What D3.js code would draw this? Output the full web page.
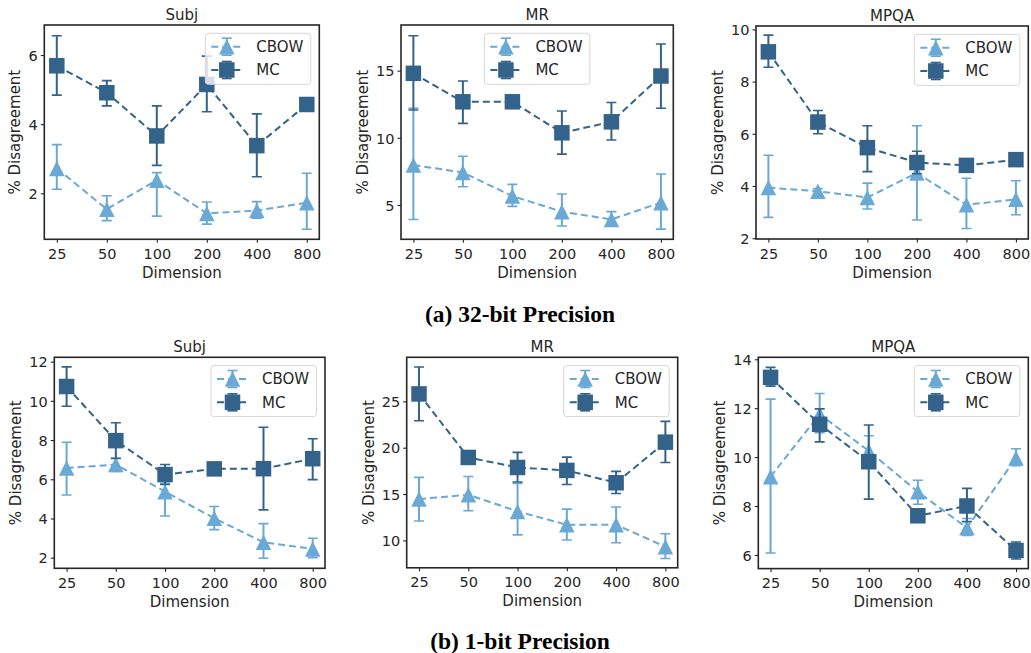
<!DOCTYPE html>
<html>
<head>
<meta charset="utf-8">
<script src="https://cdn.jsdelivr.net/npm/d3@7"></script>
<style>
  body { margin: 0; background: #fff; }
  svg { display: block; }
</style>
</head>
<body>
<svg id="chart" width="1031" height="653"></svg>
<script>
// ---- data -------------------------------------------------------------
const dimensions = ["25", "50", "100", "200", "400", "800"];
const seriesNames = ["CBOW", "MC"];

// Subj, 32-bit
const subj32Cbow     = [2.72, 1.54, 2.38, 1.42, 1.50, 1.73];
const subj32CbowLow  = [2.12, 1.21, 1.34, 1.11, 1.28, 0.96];
const subj32CbowHigh = [3.41, 1.93, 2.60, 1.75, 1.76, 2.58];
const subj32Mc       = [5.69, 4.91, 3.66, 5.15, 3.38, 4.57];
const subj32McLow    = [4.84, 4.53, 2.81, 4.36, 2.48, 4.52];
const subj32McHigh   = [6.56, 5.26, 4.53, 5.97, 4.30, 4.62];

// MR, 32-bit
const mr32Cbow     = [7.97, 7.42, 5.66, 4.50, 3.92, 5.17];
const mr32CbowLow  = [3.92, 6.35, 4.89, 3.43, 3.60, 3.20];
const mr32CbowHigh = [12.20, 8.63, 6.53, 5.81, 4.50, 7.30];
const mr32Mc       = [14.80, 12.68, 12.68, 10.37, 11.19, 14.60];
const mr32McLow    = [12.07, 11.07, 12.58, 8.78, 9.83, 12.20];
const mr32McHigh   = [17.60, 14.23, 12.78, 11.99, 12.63, 16.98];

// MPQA, 32-bit
const mpqa32Cbow     = [3.94, 3.80, 3.56, 4.50, 3.28, 3.49];
const mpqa32CbowLow  = [2.80, 3.70, 3.12, 2.70, 2.37, 2.90];
const mpqa32CbowHigh = [5.18, 3.90, 4.11, 6.31, 4.30, 4.20];
const mpqa32Mc       = [9.14, 6.45, 5.47, 4.90, 4.79, 5.01];
const mpqa32McLow    = [8.55, 6.00, 4.55, 4.47, 4.72, 4.95];
const mpqa32McHigh   = [9.78, 6.89, 6.31, 5.33, 4.86, 5.07];

// Subj, 1-bit
const subj1Cbow     = [6.58, 6.75, 5.37, 4.01, 2.79, 2.45];
const subj1CbowLow  = [5.20, 6.40, 4.13, 3.43, 1.97, 2.00];
const subj1CbowHigh = [7.89, 7.08, 5.80, 4.61, 3.74, 2.99];
const subj1Mc       = [10.73, 7.97, 6.24, 6.53, 6.54, 7.05];
const subj1McLow    = [9.72, 7.06, 5.73, 6.45, 4.44, 5.98];
const subj1McHigh   = [11.73, 8.88, 6.75, 6.61, 8.65, 8.07];

// MR, 1-bit
const mr1Cbow     = [14.46, 14.93, 13.13, 11.69, 11.69, 9.32];
const mr1CbowLow  = [12.10, 13.20, 10.60, 10.04, 9.75, 8.06];
const mr1CbowHigh = [16.80, 16.90, 16.15, 13.38, 13.60, 10.72];
const mr1Mc       = [25.80, 18.95, 17.87, 17.55, 16.22, 20.60];
const mr1McLow    = [22.90, 18.75, 16.30, 16.04, 15.07, 18.40];
const mr1McHigh   = [28.70, 19.15, 19.50, 18.99, 17.45, 22.84];

// MPQA, 1-bit
const mpqa1Cbow     = [9.20, 11.75, 10.25, 8.58, 7.11, 9.96];
const mpqa1CbowLow  = [6.08, 11.00, 9.65, 8.07, 6.80, 9.65];
const mpqa1CbowHigh = [12.37, 12.60, 10.87, 9.05, 7.49, 10.34];
const mpqa1Mc       = [13.26, 11.34, 9.81, 7.60, 8.00, 6.18];
const mpqa1McLow    = [12.90, 10.62, 8.28, 7.50, 7.36, 5.83];
const mpqa1McHigh   = [13.67, 11.97, 11.31, 7.70, 8.72, 6.53];

// y-axis tick labels per panel
const subj32Ticks = [2, 4, 6];
const mr32Ticks   = [5, 10, 15];
const mpqa32Ticks = [2, 4, 6, 8, 10];
const subj1Ticks  = [2, 4, 6, 8, 10, 12];
const mr1Ticks    = [10, 15, 20, 25];
const mpqa1Ticks  = [6, 8, 10, 12, 14];

const captions = ["(a) 32-bit Precision", "(b) 1-bit Precision"];

// ---- layout -----------------------------------------------------------
const panels = [
  { title: "Subj", box: [44.3, 25, 319.3, 239.3], domain: [0.67, 6.87], ticks: subj32Ticks, legend: "right",
    series: [[subj32Cbow, subj32CbowLow, subj32CbowHigh], [subj32Mc, subj32McLow, subj32McHigh]] },
  { title: "MR", box: [401, 25, 673.3, 239.3], domain: [2.44, 18.4], ticks: mr32Ticks, legend: "center",
    series: [[mr32Cbow, mr32CbowLow, mr32CbowHigh], [mr32Mc, mr32McLow, mr32McHigh]] },
  { title: "MPQA", box: [756, 26, 1028.3, 239], domain: [1.97, 10.13], ticks: mpqa32Ticks, legend: "right",
    series: [[mpqa32Cbow, mpqa32CbowLow, mpqa32CbowHigh], [mpqa32Mc, mpqa32McLow, mpqa32McHigh]] },
  { title: "Subj", box: [54.3, 357.3, 325, 568.3], domain: [1.46, 12.22], ticks: subj1Ticks, legend: "right",
    series: [[subj1Cbow, subj1CbowLow, subj1CbowHigh], [subj1Mc, subj1McLow, subj1McHigh]] },
  { title: "MR", box: [406.7, 357.3, 677.7, 567.8], domain: [7.05, 29.75], ticks: mr1Ticks, legend: "right",
    series: [[mr1Cbow, mr1CbowLow, mr1CbowHigh], [mr1Mc, mr1McLow, mr1McHigh]] },
  { title: "MPQA", box: [758.3, 357.3, 1028.3, 568.6], domain: [5.44, 14.08], ticks: mpqa1Ticks, legend: "right",
    series: [[mpqa1Cbow, mpqa1CbowLow, mpqa1CbowHigh], [mpqa1Mc, mpqa1McLow, mpqa1McHigh]] }
];

const colors = ["#6aa8d5", "#33628a"];
const markerSize = 15.5;
const textColor = "#262626";
const font = "'DejaVu Sans', sans-serif";

const svg = d3.select("#chart");

function drawMarker(g, kind, x, y, color) {
  const s = markerSize / 2;
  if (kind === 0) {
    g.append("path")
      .attr("d", `M${x},${y - s}L${x + s},${y + s}L${x - s},${y + s}Z`)
      .attr("fill", color);
  } else {
    g.append("rect")
      .attr("x", x - s).attr("y", y - s)
      .attr("width", 2 * s).attr("height", 2 * s)
      .attr("fill", color);
  }
}

panels.forEach((p, pi) => {
  const [x0, y0, x1, y1] = p.box;
  const g = svg.append("g");

  // categorical positions 0..5 with a 0.25-unit margin on each side
  const inset = (x1 - x0) * 0.25 / 5.5;
  const x = d3.scalePoint().domain(dimensions).range([x0 + inset, x1 - inset]);
  const y = d3.scaleLinear().domain(p.domain).range([y1, y0]);

  const clipId = "plot-clip-" + pi;
  g.append("clipPath").attr("id", clipId)
    .append("rect").attr("x", x0).attr("y", y0).attr("width", x1 - x0).attr("height", y1 - y0);
  const plot = g.append("g").attr("clip-path", `url(#${clipId})`);

  p.series.forEach(([vals, lows, highs], si) => {
    const color = colors[si];
    const sg = plot.append("g");
    // error bars with caps
    dimensions.forEach((d, i) => {
      const cx = x(d);
      sg.append("line")
        .attr("x1", cx).attr("x2", cx)
        .attr("y1", y(lows[i])).attr("y2", y(highs[i]))
        .attr("stroke", color).attr("stroke-width", 2);
      [lows[i], highs[i]].forEach(v => {
        sg.append("line")
          .attr("x1", cx - 5).attr("x2", cx + 5)
          .attr("y1", y(v)).attr("y2", y(v))
          .attr("stroke", color).attr("stroke-width", 1.6);
      });
    });
    // dashed connecting line
    const line = d3.line().x((v, i) => x(dimensions[i])).y(v => y(v));
    sg.append("path")
      .attr("d", line(vals))
      .attr("fill", "none")
      .attr("stroke", color)
      .attr("stroke-width", 2)
      .attr("stroke-dasharray", "7,4");
    // markers
    vals.forEach((v, i) => drawMarker(sg, si, x(dimensions[i]), y(v), color));
  });

  // frame
  g.append("rect")
    .attr("x", x0).attr("y", y0)
    .attr("width", x1 - x0).attr("height", y1 - y0)
    .attr("fill", "none").attr("stroke", "#262626").attr("stroke-width", 1.6);

  // x axis
  const xAxis = g.append("g")
    .attr("transform", `translate(0,${y1})`)
    .call(d3.axisBottom(x).tickSize(3.5).tickPadding(4));
  xAxis.select(".domain").remove();
  xAxis.selectAll("line").attr("stroke", textColor).attr("stroke-width", 1.1);
  xAxis.selectAll("text")
    .attr("fill", textColor).style("font-family", font).style("font-size", "14.5px")
    .attr("dy", null).attr("y", 19.5);

  // y axis
  const yAxis = g.append("g")
    .attr("transform", `translate(${x0},0)`)
    .call(d3.axisLeft(y).tickValues(p.ticks).tickFormat(d3.format("d")).tickSize(3.5).tickPadding(3));
  yAxis.select(".domain").remove();
  yAxis.selectAll("line").attr("stroke", textColor).attr("stroke-width", 1.1);
  yAxis.selectAll("text")
    .attr("fill", textColor).style("font-family", font).style("font-size", "14.5px")
    .attr("dy", "0.36em");

  let maxW = 0;
  yAxis.selectAll("text").each(function () { maxW = Math.max(maxW, this.getComputedTextLength()); });

  // axis titles
  g.append("text")
    .attr("x", (x0 + x1) / 2).attr("y", y1 + 38.5)
    .attr("text-anchor", "middle")
    .attr("fill", textColor).style("font-family", font).style("font-size", "15px")
    .text("Dimension");
  const ly = (y0 + y1) / 2;
  const lx = x0 - maxW - 20;
  g.append("text")
    .attr("transform", `translate(${lx},${ly}) rotate(-90)`)
    .attr("text-anchor", "middle").attr("dy", "0.36em")
    .attr("fill", textColor).style("font-family", font).style("font-size", "15px")
    .text("% Disagreement");

  // panel title
  g.append("text")
    .attr("x", (x0 + x1) / 2).attr("y", y0 - 5)
    .attr("text-anchor", "middle")
    .attr("fill", textColor).style("font-family", font).style("font-size", "15px")
    .text(p.title);

  // legend
  const lw = 105.5, lh = 51;
  const lx0 = p.legend === "center" ? (x0 + x1) / 2 - lw / 2 : x1 - 8.5 - lw;
  const ly0 = y0 + 8.3;
  const lg = g.append("g");
  lg.append("rect")
    .attr("x", lx0).attr("y", ly0).attr("width", lw).attr("height", lh)
    .attr("rx", 3).attr("ry", 3)
    .attr("fill", "rgba(255,255,255,0.8)")
    .attr("stroke", "#d6d6d6").attr("stroke-width", 1);
  seriesNames.forEach((name, si) => {
    const cy = ly0 + 13.4 + si * 23.3;
    const hx0 = lx0 + 6, hx1 = lx0 + 37, hc = (hx0 + hx1) / 2;
    const color = colors[si];
    lg.append("line")
      .attr("x1", hx0).attr("x2", hx1).attr("y1", cy).attr("y2", cy)
      .attr("stroke", color).attr("stroke-width", 2).attr("stroke-dasharray", "7,4");
    lg.append("line")
      .attr("x1", hc).attr("x2", hc).attr("y1", cy - 8.5).attr("y2", cy + 8.5)
      .attr("stroke", color).attr("stroke-width", 2);
    [cy - 8.5, cy + 8.5].forEach(v => {
      lg.append("line").attr("x1", hc - 5).attr("x2", hc + 5).attr("y1", v).attr("y2", v)
        .attr("stroke", color).attr("stroke-width", 1.6);
    });
    drawMarker(lg, si, hc, cy, color);
    lg.append("text")
      .attr("x", lx0 + 51).attr("y", cy).attr("dy", "0.36em")
      .attr("fill", textColor).style("font-family", font).style("font-size", "15px")
      .text(name);
  });
});

// sub-figure captions
[[captions[0], 321.5], [captions[1], 648.5]].forEach(([text, yPos]) => {
  svg.append("text")
    .attr("x", 520).attr("y", yPos)
    .attr("text-anchor", "middle")
    .style("font-family", "'Liberation Serif', 'Times New Roman', serif")
    .style("font-weight", "bold").style("font-size", "23.5px")
    .attr("fill", "#000")
    .text(text);
});
</script>
</body>
</html>
